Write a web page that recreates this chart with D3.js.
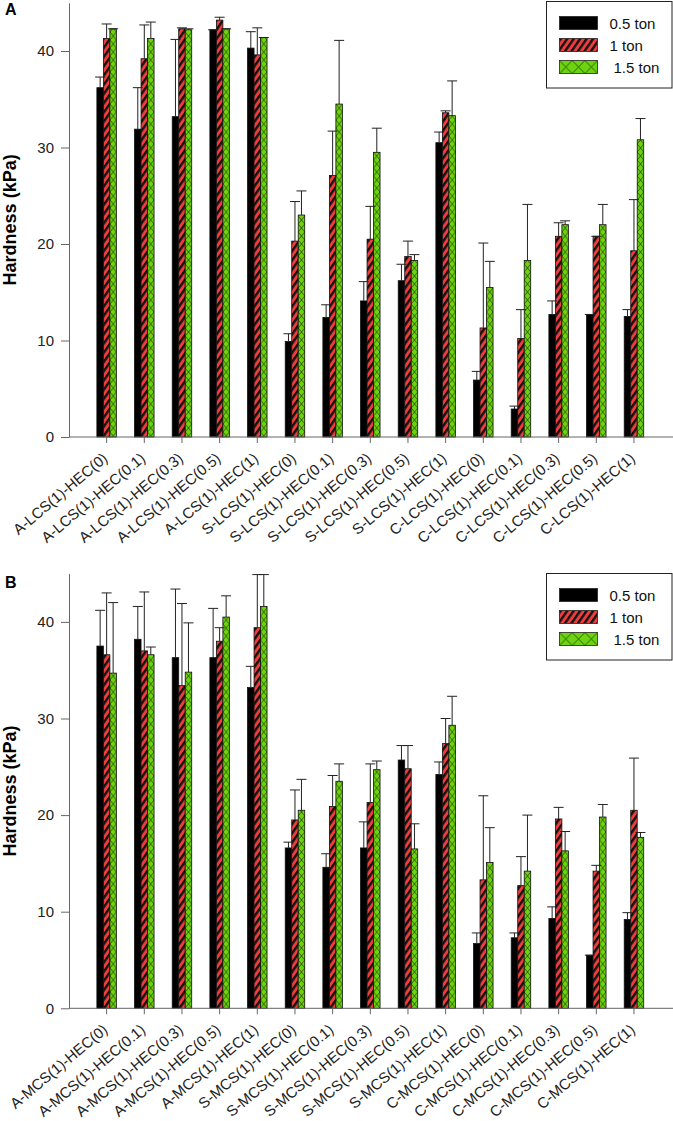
<!DOCTYPE html>
<html>
<head>
<meta charset="utf-8">
<script src="https://d3js.org/d3.v7.min.js"></script>
<style>
  html, body { margin: 0; padding: 0; background: #fff; }
  svg { display: block; font-family: "Liberation Sans", Arial, sans-serif; }
</style>
</head>
<body>
<svg id="chart" width="673" height="1121"></svg>
<script>
// ---------------- DATA ----------------
const seriesNames = ["0.5 ton", "1 ton", "1.5 ton"];
const yTicks = [0, 10, 20, 30, 40];

const categoriesA = ["A-LCS(1)-HEC(0)", "A-LCS(1)-HEC(0.1)", "A-LCS(1)-HEC(0.3)", "A-LCS(1)-HEC(0.5)", "A-LCS(1)-HEC(1)",
  "S-LCS(1)-HEC(0)", "S-LCS(1)-HEC(0.1)", "S-LCS(1)-HEC(0.3)", "S-LCS(1)-HEC(0.5)", "S-LCS(1)-HEC(1)",
  "C-LCS(1)-HEC(0)", "C-LCS(1)-HEC(0.1)", "C-LCS(1)-HEC(0.3)", "C-LCS(1)-HEC(0.5)", "C-LCS(1)-HEC(1)"];
const a05 = [36.2, 31.9, 33.2, 42.2, 40.3, 9.9, 12.4, 14.1, 16.2, 30.5, 5.9, 2.9, 12.7, 12.7, 12.5];
const a05Err = [1.1, 4.3, 8.0, 0, 1.7, 0.8, 1.3, 2.0, 1.7, 1.1, 0.9, 0.3, 1.4, 0, 0.7];
const a10 = [41.3, 39.2, 42.3, 43.2, 39.6, 20.3, 27.1, 20.5, 18.7, 33.6, 11.3, 10.2, 20.8, 20.8, 19.3];
const a10Err = [1.5, 3.5, 0.1, 0.3, 2.8, 4.1, 4.6, 3.4, 1.6, 0.2, 8.8, 3.0, 1.4, 0, 5.3];
const a15 = [42.3, 41.3, 42.2, 42.3, 41.4, 23.0, 34.5, 29.5, 18.3, 33.3, 15.5, 18.3, 22.0, 22.0, 30.8];
const a15Err = [0, 1.7, 0.1, 0, 0, 2.5, 6.6, 2.5, 0.6, 3.6, 2.7, 5.8, 0.4, 2.1, 2.2];

const categoriesB = ["A-MCS(1)-HEC(0)", "A-MCS(1)-HEC(0.1)", "A-MCS(1)-HEC(0.3)", "A-MCS(1)-HEC(0.5)", "A-MCS(1)-HEC(1)",
  "S-MCS(1)-HEC(0)", "S-MCS(1)-HEC(0.1)", "S-MCS(1)-HEC(0.3)", "S-MCS(1)-HEC(0.5)", "S-MCS(1)-HEC(1)",
  "C-MCS(1)-HEC(0)", "C-MCS(1)-HEC(0.1)", "C-MCS(1)-HEC(0.3)", "C-MCS(1)-HEC(0.5)", "C-MCS(1)-HEC(1)"];
const b05 = [37.5, 38.2, 36.3, 36.3, 33.2, 16.6, 14.6, 16.6, 25.7, 24.2, 6.7, 7.3, 9.3, 5.5, 9.2];
const b05Err = [3.7, 3.4, 7.1, 5.1, 2.2, 0.6, 1.4, 2.7, 1.5, 1.3, 1.1, 0.5, 1.2, 0, 0.7];
const b10 = [36.6, 37.0, 33.4, 38.0, 39.4, 19.5, 20.9, 21.3, 24.8, 27.4, 13.3, 12.7, 19.6, 14.2, 20.5];
const b10Err = [6.4, 6.1, 8.5, 1.4, 5.5, 3.1, 3.2, 4.0, 2.4, 2.6, 8.7, 3.0, 1.2, 0.6, 5.4];
const b15 = [34.7, 36.6, 34.8, 40.5, 41.6, 20.5, 23.5, 24.7, 16.5, 29.3, 15.1, 14.2, 16.3, 19.8, 17.7];
const b15Err = [7.3, 0.8, 5.1, 2.2, 3.3, 3.2, 1.8, 0.9, 2.6, 3.0, 3.6, 5.8, 2.0, 1.3, 0.5];

// ---------------- DRAW ----------------
const svg = d3.select("#chart");
svg.append("rect").attr("width", 673).attr("height", 1121).attr("fill", "#fff");

const RED = "#f03c3c", GREEN = "#6cd40e";
const barW = 6.5;
const defs = svg.append("defs");

// diagonal stripes (red + black)
const stripe = defs.append("pattern").attr("id", "stripes").attr("patternUnits", "userSpaceOnUse")
  .attr("width", 5.3).attr("height", 10).attr("patternTransform", "rotate(35)");
stripe.append("rect").attr("width", 5.3).attr("height", 10).attr("fill", RED);
stripe.append("rect").attr("width", 2.4).attr("height", 10).attr("fill", "#111");

// cross hatch (green + thin black X)
function crossPattern(id, w, h) {
  const p = defs.append("pattern").attr("id", id).attr("patternUnits", "userSpaceOnUse")
    .attr("width", w).attr("height", h);
  p.append("rect").attr("width", w).attr("height", h).attr("fill", GREEN);
  p.append("path").attr("d", `M0,0L${w},${h}M${w},0L0,${h}`).attr("stroke", "#1a2a00")
    .attr("stroke-width", 0.7).attr("fill", "none");
}
crossPattern("cross", barW, 8);
crossPattern("crossLeg", 12.7, 13);

const fills = ["#000", "url(#stripes)", "url(#cross)"];
const legFills = ["#000", "url(#stripes)", "url(#crossLeg)"];

function drawPanel(cfg) {
  const g = svg.append("g");
  const x = d3.scaleBand().domain(cfg.categories).range([87.8, 652.8]).padding(0);
  const xi = d3.scaleBand().domain(seriesNames).range([-barW * 1.5, barW * 1.5]).padding(0);
  const y = d3.scaleLinear().domain([0, 45]).range([cfg.y0, cfg.y0 - 45 * cfg.k]);
  const cx = c => x(c) + x.bandwidth() / 2;

  const rows = [];
  cfg.categories.forEach((c, i) => {
    cfg.series.forEach((s, j) => rows.push({ c, j, v: s.v[i], e: s.e[i] }));
  });

  // bars
  const bg = g.selectAll("g.bar").data(rows).join("g").attr("class", "bar")
    .attr("transform", d => `translate(${cx(d.c) + xi(seriesNames[d.j])},0)`);
  bg.append("rect")
    .attr("x", 0).attr("width", xi.bandwidth())
    .attr("y", d => y(d.v)).attr("height", d => y(0) - y(d.v))
    .attr("fill", d => fills[d.j]).attr("stroke", "#111").attr("stroke-width", 0.8);

  // error bars
  const eg = g.selectAll("g.err").data(rows).join("g").attr("class", "err")
    .attr("stroke", "#222").attr("stroke-width", 1);
  eg.append("line")
    .attr("x1", d => cx(d.c) + xi(seriesNames[d.j]) + xi.bandwidth() / 2)
    .attr("x2", d => cx(d.c) + xi(seriesNames[d.j]) + xi.bandwidth() / 2)
    .attr("y1", d => y(d.v)).attr("y2", d => y(d.v + d.e));
  eg.append("line")
    .attr("x1", d => cx(d.c) + xi(seriesNames[d.j]) + xi.bandwidth() / 2 - 5)
    .attr("x2", d => cx(d.c) + xi(seriesNames[d.j]) + xi.bandwidth() / 2 + 5)
    .attr("y1", d => y(d.v + d.e)).attr("y2", d => y(d.v + d.e));

  // y axis
  const ya = g.append("g").attr("transform", "translate(69,0)")
    .call(d3.axisLeft(y).tickValues(yTicks).tickSize(8).tickSizeOuter(0).tickPadding(7));
  ya.select(".domain").attr("stroke", "#666");
  ya.selectAll(".tick line").attr("stroke", "#666");
  ya.selectAll(".tick text").attr("font-size", 15).attr("fill", "#222")
    .attr("font-family", "Liberation Sans, Arial, sans-serif");

  // x axis
  const xa = g.append("g").attr("transform", `translate(0,${cfg.y0})`)
    .call(d3.axisBottom(x).tickSize(6).tickSizeOuter(0));
  xa.select(".domain").remove();
  xa.append("line").attr("x1", 69).attr("x2", 673).attr("stroke", "#666");
  xa.selectAll(".tick line").attr("stroke", "#666");
  xa.selectAll(".tick text").attr("font-size", 15).attr("fill", "#222")
    .attr("font-family", "Liberation Sans, Arial, sans-serif")
    .attr("text-anchor", "end").attr("x", 0).attr("y", 0).attr("dy", 0)
    .attr("transform", "translate(2,23) rotate(-40)");

  // y title
  g.append("text").attr("transform", `translate(15.5,${y(22.5)}) rotate(-90)`)
    .attr("text-anchor", "middle").attr("font-weight", "bold").attr("font-size", 18)
    .attr("fill", "#000").text("Hardness (kPa)");

  // panel letter
  g.append("text").attr("x", 5).attr("y", cfg.letterY).attr("font-weight", "bold")
    .attr("font-size", 16).text(cfg.letter);

  // legend
  const lg = g.append("g").attr("transform", `translate(${cfg.legX},${cfg.legY})`);
  lg.append("rect").attr("x", 0).attr("y", 0).attr("width", 125.5).attr("height", 86.5)
    .attr("fill", "#fff").attr("stroke", "#222").attr("stroke-width", 1);
  const items = lg.selectAll("g.item").data(seriesNames).join("g").attr("class", "item")
    .attr("transform", (d, i) => `translate(13,${15 + i * 22})`);
  items.append("rect").attr("width", 38).attr("height", 13)
    .attr("fill", (d, i) => legFills[i]).attr("stroke", "#222").attr("stroke-width", 0.8);
  items.append("text").attr("x", (d, i) => i === 2 ? 54 : 50).attr("y", 12)
    .attr("font-size", 15).attr("fill", "#111").text(d => d);
}

drawPanel({
  categories: categoriesA, y0: 437, k: 9.65, letter: "A", letterY: 15,
  legX: 546.5, legY: 1.5,
  series: [{ v: a05, e: a05Err }, { v: a10, e: a10Err }, { v: a15, e: a15Err }]
});
drawPanel({
  categories: categoriesB, y0: 1008.3, k: 9.66, letter: "B", letterY: 588,
  legX: 546.5, legY: 573.5,
  series: [{ v: b05, e: b05Err }, { v: b10, e: b10Err }, { v: b15, e: b15Err }]
});
</script>
</body>
</html>
